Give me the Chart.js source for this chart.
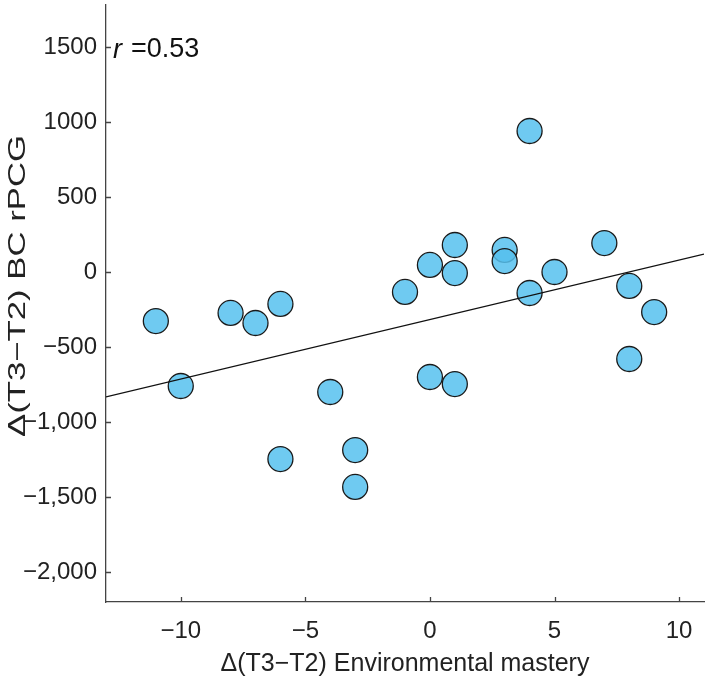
<!DOCTYPE html>
<html>
<head>
<meta charset="utf-8">
<script src="https://cdn.jsdelivr.net/npm/chart.js@4"></script>
<style>
  body { margin: 0; background: #fff; }
  #wrap { width: 709px; height: 681px; position: relative; }
</style>
</head>
<body>
<div id="wrap"><canvas id="myChart"></canvas></div>
<script>
// data
const xValues = [-11, -10, -8, -7, -6, -6, -4, -3, -3, -1, 0, 0, 1, 1, 1, 3, 3, 4, 4, 5, 7, 8, 8, 9]
const yValues = [-327, -760, -273, -340, -213, -1247, -800, -1187, -1433, -133, 47, -700, 180, -7, -747, 147, 73, 940, -140, 0, 193, -93, -580, -267]

const xTickValues = [-10, -5, 0, 5, 10]
const xTickLabels = ['\u221210', '\u22125', '0', '5', '10']
const yTickValues = [-2000, -1500, -1000, -500, 0, 500, 1000, 1500]
const yTickLabels = ['\u22122,000', '\u22121,500', '\u22121,000', '\u2212500', '0', '500', '1000', '1500']

// fitted line as drawn
const fitSlope = 39.7
const fitIntercept = -317
const xRange = [-13, 11]
const yRange = [-2200, 1780]

const yTitle = '\u0394(T3\u2212T2) BC rPCG'
const fontFamily = "'Liberation Sans', Arial, sans-serif"
const textColor = '#222'

const points = xValues.map((x, i) => ({ x: x, y: yValues[i] }))
const fitLine = xRange.map(x => ({ x: x, y: fitIntercept + fitSlope * x }))

// inward tick marks, r label and the (stretched) y title
const extras = {
  id: 'extras',
  afterDraw(chart) {
    const ctx = chart.ctx
    const xs = chart.scales.x
    const ys = chart.scales.y
    const area = chart.chartArea
    ctx.save()
    ctx.strokeStyle = '#444'
    ctx.lineWidth = 1.3
    ctx.beginPath()
    xTickValues.forEach(v => {
      const px = Math.round(xs.getPixelForValue(v)) + 0.5
      ctx.moveTo(px, area.bottom)
      ctx.lineTo(px, area.bottom - 5)
    })
    yTickValues.forEach(v => {
      const py = Math.round(ys.getPixelForValue(v)) + 0.5
      ctx.moveTo(area.left, py)
      ctx.lineTo(area.left + 5, py)
    })
    ctx.stroke()

    ctx.fillStyle = '#111'
    ctx.textBaseline = 'middle'
    ctx.font = 'italic 27px ' + fontFamily
    const lx = area.left + 7
    const ly = ys.getPixelForValue(1500) + 3
    ctx.fillText('r', lx, ly)
    ctx.font = '27px ' + fontFamily
    ctx.fillText('=0.53', lx + 18, ly)

    // y title
    ctx.fillStyle = textColor
    ctx.font = '24px ' + fontFamily
    ctx.textAlign = 'center'
    const w = ctx.measureText(yTitle).width
    ctx.translate(18, 286)
    ctx.rotate(-Math.PI / 2)
    ctx.scale(302 / w, 1)
    ctx.fillText(yTitle, 0, 0)
    ctx.restore()
  }
}

const ctx = document.getElementById('myChart')

const myChart = new Chart(ctx, {
  type: 'scatter',
  data: {
    datasets: [{
      type: 'line',
      data: fitLine,
      borderColor: '#111',
      borderWidth: 1.3,
      pointRadius: 0,
      fill: false,
      order: 0
    }, {
      data: points,
      backgroundColor: 'rgba(86,193,238,0.85)',
      borderColor: '#1a1a1a',
      borderWidth: 1.3,
      pointRadius: 12.5,
      pointHoverRadius: 12.5,
      order: 1
    }]
  },
  options: {
    responsive: true,
    maintainAspectRatio: false,
    animation: false,
    layout: { autoPadding: false, padding: { top: 5, right: 5, left: 0, bottom: 0 } },
    plugins: {
      legend: { display: false },
      tooltip: { enabled: false }
    },
    scales: {
      x: {
        type: 'linear',
        min: xRange[0],
        max: xRange[1],
        afterBuildTicks: s => { s.ticks = xTickValues.map(v => ({ value: v })) },
        afterFit: s => {
          s.height = 79
          s.paddingLeft = 0
          s.paddingRight = 0
        },
        grid: { display: false, drawTicks: false },
        border: { display: true, color: '#444', width: 1.3 },
        ticks: {
          padding: 15,
          color: textColor,
          font: { family: fontFamily, size: 24 },
          callback: v => xTickLabels[xTickValues.indexOf(v)]
        },
        title: {
          display: true,
          text: '\u0394(T3\u2212T2) Environmental mastery',
          color: textColor,
          font: { family: fontFamily, size: 25 },
          padding: { top: 0, bottom: 2 }
        }
      },
      y: {
        type: 'linear',
        min: yRange[0],
        max: yRange[1],
        afterBuildTicks: s => { s.ticks = yTickValues.map(v => ({ value: v })) },
        afterFit: s => {
          s.width = 106
          s.paddingTop = 0
          s.paddingBottom = 0
        },
        grid: { display: false, drawTicks: false },
        border: { display: true, color: '#444', width: 1.3 },
        ticks: {
          padding: 9,
          color: textColor,
          font: { family: fontFamily, size: 24 },
          callback: v => yTickLabels[yTickValues.indexOf(v)]
        }
      }
    }
  },
  plugins: [extras]
})
</script>
</body>
</html>
